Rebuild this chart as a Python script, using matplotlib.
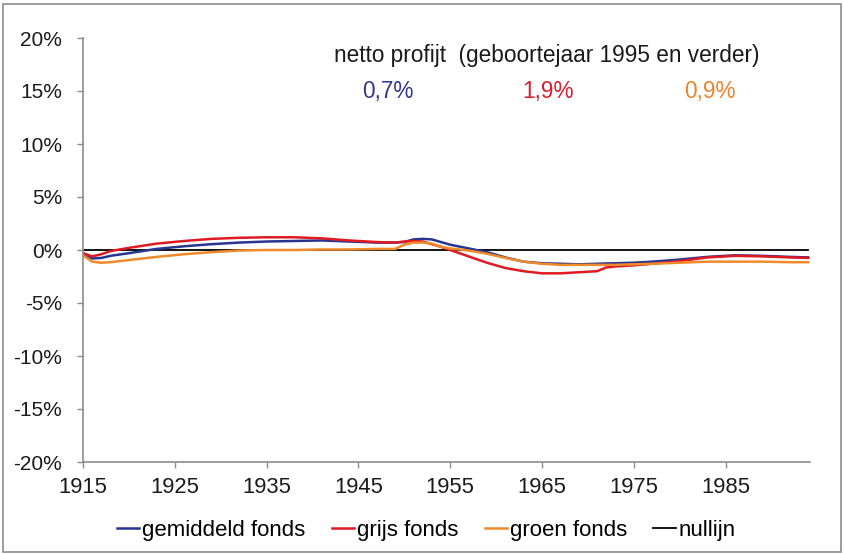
import matplotlib
matplotlib.use('Agg')
from matplotlib import pyplot as plt
from matplotlib.patches import Rectangle

plt.rcParams['font.family'] = ['Liberation Sans', 'DejaVu Sans']

years = [1915, 1916, 1917, 1918, 1920, 1923, 1926, 1929, 1932, 1935, 1938, 1941,
         1944, 1947, 1949, 1950, 1951, 1952, 1953, 1954, 1955, 1957, 1959, 1961,
         1963, 1965, 1967, 1969, 1971, 1972, 1973, 1975, 1977, 1980, 1983, 1986,
         1989, 1992, 1994]

# netto profijt per geboortejaar, in %
gemiddeld = [-0.3, -0.8, -0.75, -0.55, -0.3, 0.1, 0.35, 0.55, 0.7, 0.8, 0.85, 0.9,
             0.8, 0.7, 0.7, 0.75, 1.0, 1.05, 1.0, 0.75, 0.5, 0.15, -0.2, -0.7,
             -1.1, -1.25, -1.3, -1.35, -1.3, -1.27, -1.25, -1.2, -1.1, -0.9, -0.65, -0.5,
             -0.55, -0.65, -0.7]
grijs = [-0.3, -0.6, -0.4, -0.1, 0.2, 0.6, 0.85, 1.05, 1.15, 1.2, 1.2, 1.1,
         0.9, 0.75, 0.7, 0.8, 0.85, 0.8, 0.55, 0.3, 0.0, -0.6, -1.2, -1.7,
         -2.0, -2.2, -2.2, -2.1, -2.0, -1.65, -1.55, -1.45, -1.3, -1.05, -0.7, -0.55,
         -0.6, -0.7, -0.75]
groen = [-0.5, -1.1, -1.2, -1.15, -0.95, -0.65, -0.4, -0.2, -0.05, 0.0, 0.0, 0.05,
         0.05, 0.1, 0.1, 0.5, 0.7, 0.7, 0.6, 0.3, 0.15, -0.05, -0.35, -0.75,
         -1.1, -1.3, -1.4, -1.4, -1.4, -1.4, -1.4, -1.35, -1.3, -1.2, -1.1, -1.1,
         -1.1, -1.15, -1.15]

tick_years = [1915, 1925, 1935, 1945, 1955, 1965, 1975, 1985]
yticks = [-20, -15, -10, -5, 0, 5, 10, 15, 20]

netto = ['0,7%', '1,9%', '0,9%']

c_blue = '#27358f'
c_red = '#e01a22'
c_orange = '#ee8a2a'

fig = plt.figure(figsize=(8.44, 5.54), dpi=100)
ax = fig.add_axes([83 / 844, 1 - 462 / 554, 727 / 844, 424 / 554])

ax.plot(years, gemiddeld, color=c_blue, lw=1.8, label='gemiddeld fonds')
ax.plot(years, grijs, color=c_red, lw=1.8, label='grijs fonds')
ax.plot(years, groen, color=c_orange, lw=1.8, label='groen fonds')
ax.plot([1915, 1994], [0, 0], color='black', lw=1.3, label='nullijn', zorder=1)

ax.set_xlim(1915, 1994.2)
ax.set_ylim(-20, 20)
ax.set_xticks(tick_years)
ax.set_xticklabels([str(y) for y in tick_years])
ax.set_yticks(yticks)
ax.set_yticklabels(['%d%%' % v for v in yticks])

for s in ['top', 'right']:
    ax.spines[s].set_visible(False)
for s in ['left', 'bottom']:
    ax.spines[s].set_color('#8c8c8c')
    ax.spines[s].set_linewidth(1.2)
ax.tick_params(axis='both', colors='#8c8c8c', labelcolor='#1a1a1a', labelsize=15,
               direction='out', length=4, width=1)
ax.tick_params(axis='y', pad=11)
ax.tick_params(axis='x', labelsize=15.8, pad=7)

ax.text(0.638, 0.958, 'netto profijt  (geboortejaar 1995 en verder)', transform=ax.transAxes,
        ha='center', va='center', fontsize=16.3, color='#1a1a1a')
for xp, txt, col in zip([0.419, 0.640, 0.862], netto, ['#35358f', '#d42030', '#e8852e']):
    ax.text(xp, 0.873, txt, transform=ax.transAxes, ha='center', va='center',
            fontsize=16.3, color=col)

fig.legend(loc='center', bbox_to_anchor=(0.505, 0.043), ncol=4, frameon=False,
           fontsize=16, handlelength=1.0, handletextpad=0.12, columnspacing=1.2)

fig.patches.append(Rectangle((0.003, 0.003), 0.994, 0.99, transform=fig.transFigure,
                             fill=False, edgecolor='#8c8c8c', lw=1.2))

fig.savefig('out.png', dpi=100)
